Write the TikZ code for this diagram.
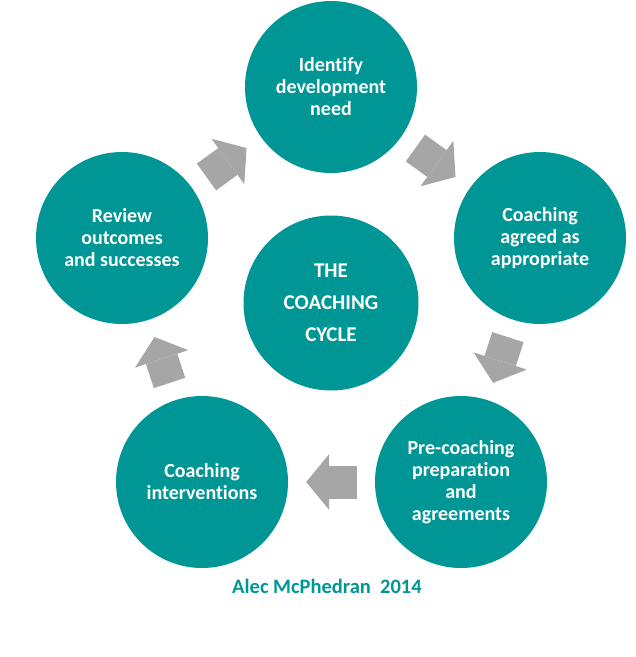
\documentclass[tikz,border=0pt]{standalone}
\usepackage{fontspec}
\setmainfont{Carlito}[Ligatures=NoCommon]
\usetikzlibrary{arrows.meta,positioning}
\definecolor{cycleteal}{RGB}{0,150,150}
\definecolor{arrowgrey}{RGB}{166,166,166}

\begin{document}
\begin{tikzpicture}[
    x=1pt, y=-1pt,
    stage/.style={circle, fill=cycleteal, minimum size=172pt, inner sep=0pt, text=white, font=\fontsize{20}{22}\selectfont\bfseries, align=center},
    hub/.style={stage, minimum size=175pt, font=\fontsize{21}{32}\selectfont\bfseries},
    credit/.style={text=cycleteal, font=\fontsize{20.5}{22}\selectfont\bfseries},
    arrow/.style={draw=arrowgrey, line width=33pt, -{Triangle[length=23pt, width=56pt, line width=0pt, sep=-2pt]}, shorten <=18pt, shorten >=20pt}
]
\useasboundingbox (0,0) rectangle (636,657);

\node[stage] (need) at (331,87) {Identify\\development\\need};
\node[stage] (agreed) at (540,238) {Coaching\\agreed as\\appropriate};
\node[stage] (prep) at (461,482) {Pre-coaching\\preparation\\and\\agreements};
\node[stage] (interv) at (202,482) {Coaching\\interventions};
\node[stage] (review) at (122,238) {Review\\outcomes\\and successes};
\node[hub] (cycle) at (331,303) {THE\\COACHING\\CYCLE};

\node[credit] (author) at (327,586) {Alec McPhedran\ \ 2014};

\draw[arrow] (review) -- (need);
\draw[arrow] (need) -- (agreed);
\draw[arrow] (agreed) -- (prep);
\draw[arrow] (prep) -- (interv);
\draw[arrow] (interv) -- (review);

\end{tikzpicture}
\end{document}
